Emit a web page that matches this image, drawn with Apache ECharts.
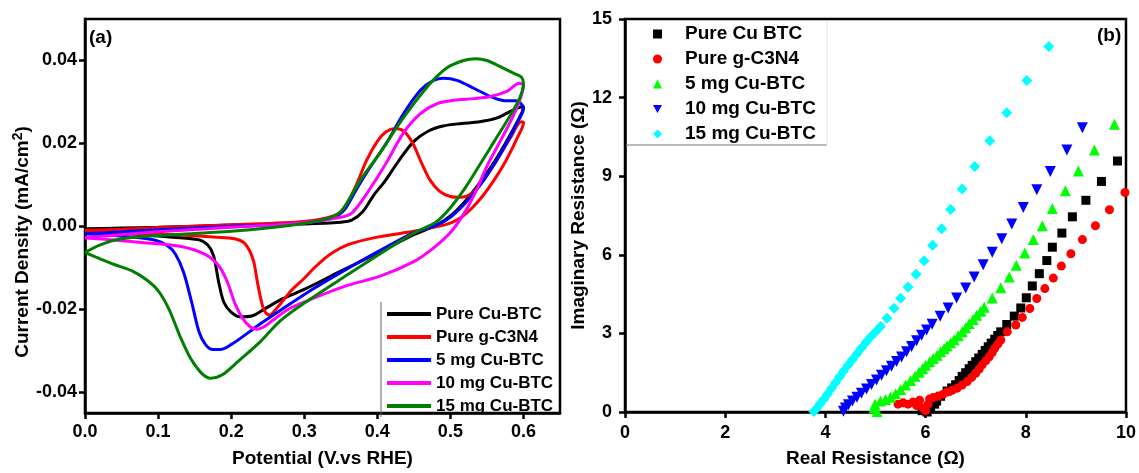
<!DOCTYPE html>
<html>
<head>
<meta charset="utf-8">
<script src="https://cdn.jsdelivr.net/npm/echarts@6/dist/echarts.min.js"></script>
<style>
html,body{margin:0;padding:0;background:#fff}
#chart{width:1139px;height:473px}
</style>
</head>
<body>
<div id="chart"></div>
<script>
// ---- (a) cyclic voltammograms: [potential V vs RHE, current density mA/cm2] ----
const cvPureCuBTC = [
  [0,-0.0006],[0.05,-0.0004],[0.1,-0.0002],[0.2,0.0003],[0.3,0.0006],[0.35,0.001],[0.365,0.0015],
  [0.38,0.0035],[0.395,0.0075],[0.41,0.0108],[0.43,0.016],[0.45,0.0205],[0.47,0.023],[0.49,0.0242],
  [0.515,0.0248],[0.54,0.0252],[0.565,0.0262],[0.585,0.028],[0.6,0.029],
  [0.598,0.0275],[0.58,0.0215],[0.56,0.0155],[0.54,0.0105],[0.52,0.006],[0.5,0.0025],[0.48,0.0002],
  [0.45,-0.002],[0.4,-0.0065],[0.35,-0.0108],[0.3,-0.0152],[0.27,-0.0175],[0.245,-0.02],[0.228,-0.0216],
  [0.212,-0.0218],[0.2,-0.0207],[0.19,-0.0183],[0.183,-0.0135],[0.176,-0.0071],[0.168,-0.0045],
  [0.155,-0.0032],[0.12,-0.0026],[0.08,-0.002],[0.04,-0.0014],[0,-0.0008]
];
const cvPureGC3N4 = [
  [0,-0.001],[0.05,-0.0007],[0.1,-0.0003],[0.2,0.0004],[0.3,0.0012],[0.34,0.0025],[0.355,0.0045],
  [0.37,0.0095],[0.385,0.0158],[0.4,0.0205],[0.412,0.0228],[0.424,0.0236],[0.436,0.023],[0.448,0.0202],
  [0.46,0.0155],[0.472,0.0112],[0.485,0.0085],[0.5,0.0072],[0.515,0.007],[0.528,0.0078],[0.542,0.0103],
  [0.563,0.0158],[0.582,0.0213],[0.597,0.0252],
  [0.6,0.025],[0.592,0.0215],[0.575,0.0155],[0.56,0.0112],[0.545,0.0075],[0.53,0.0045],[0.515,0.0022],
  [0.5,0.0008],[0.475,-0.0003],[0.45,-0.0012],[0.4,-0.0026],[0.36,-0.0044],[0.335,-0.0068],
  [0.315,-0.0098],[0.3,-0.0125],[0.282,-0.0155],[0.265,-0.0192],[0.252,-0.0214],[0.245,-0.0202],
  [0.24,-0.017],[0.236,-0.0135],[0.23,-0.008],[0.219,-0.0042],[0.205,-0.003],[0.18,-0.0026],
  [0.13,-0.0021],[0.06,-0.0016],[0,-0.0012]
];
const cv5mg = [
  [0,-0.0018],[0.05,-0.0013],[0.1,-0.0008],[0.2,0],[0.3,0.0008],[0.34,0.0022],[0.355,0.004],[0.37,0.0085],
  [0.386,0.0131],[0.4,0.0168],[0.413,0.0202],[0.436,0.0272],[0.459,0.0328],[0.477,0.0352],[0.491,0.0357],
  [0.509,0.0352],[0.532,0.0333],[0.555,0.0313],[0.575,0.0303],[0.59,0.0303],[0.597,0.0295],
  [0.6,0.0285],[0.59,0.0245],[0.575,0.0195],[0.56,0.015],[0.54,0.0098],[0.52,0.0055],[0.5,0.0022],
  [0.48,0.0002],[0.45,-0.0015],[0.404,-0.0058],[0.358,-0.0103],[0.313,-0.015],[0.267,-0.0203],
  [0.24,-0.0235],[0.222,-0.0258],[0.2,-0.0285],[0.185,-0.0297],[0.175,-0.0297],[0.165,-0.0285],
  [0.156,-0.0254],[0.146,-0.0183],[0.135,-0.0111],[0.124,-0.0068],[0.113,-0.0047],[0.095,-0.0033],
  [0.06,-0.0025],[0.02,-0.002],[0,-0.0018]
];
const cv10mg = [
  [0,-0.0027],[0.05,-0.002],[0.1,-0.0013],[0.2,-0.0002],[0.3,0.0009],[0.35,0.0022],[0.365,0.0032],
  [0.386,0.008],[0.413,0.0155],[0.436,0.0226],[0.459,0.0272],[0.482,0.0296],[0.505,0.0304],[0.532,0.0308],
  [0.555,0.0313],[0.578,0.0326],[0.594,0.0345],[0.6,0.034],
  [0.592,0.029],[0.58,0.0245],[0.565,0.0195],[0.55,0.0145],[0.535,0.0085],[0.52,0.0035],[0.5,-0.0015],
  [0.475,-0.0055],[0.45,-0.0085],[0.404,-0.012],[0.358,-0.0143],[0.313,-0.0173],[0.28,-0.0198],
  [0.258,-0.0225],[0.245,-0.0242],[0.235,-0.0248],[0.226,-0.0242],[0.215,-0.022],[0.205,-0.0185],
  [0.195,-0.0135],[0.183,-0.0095],[0.165,-0.0068],[0.13,-0.0048],[0.085,-0.004],[0.04,-0.0033],[0,-0.0028]
];
const cv15mg = [
  [0,-0.0063],[0.02,-0.0045],[0.05,-0.003],[0.1,-0.0022],[0.2,-0.0012],[0.28,0.0002],[0.33,0.0018],
  [0.35,0.0035],[0.377,0.0112],[0.404,0.0178],[0.427,0.024],[0.45,0.0296],[0.473,0.0346],[0.495,0.0382],
  [0.518,0.04],[0.535,0.0404],[0.55,0.04],[0.564,0.0389],[0.587,0.0369],[0.597,0.036],[0.6,0.0345],
  [0.595,0.031],[0.58,0.0262],[0.56,0.0205],[0.54,0.0148],[0.52,0.0092],[0.5,0.0045],[0.48,0.001],
  [0.45,-0.0016],[0.404,-0.0066],[0.358,-0.0118],[0.3,-0.0185],[0.267,-0.0228],[0.24,-0.0278],
  [0.21,-0.0325],[0.188,-0.0358],[0.172,-0.0366],[0.16,-0.0355],[0.145,-0.032],[0.13,-0.0265],
  [0.115,-0.02],[0.1,-0.0155],[0.085,-0.013],[0.065,-0.0108],[0.04,-0.0092],[0.015,-0.0074],[0,-0.0063]
];

// ---- (b) Nyquist data: [real resistance, imaginary resistance] ----
const eisPureCuBTC = [
  [5.93,0.05],[6.03,0.0],[6.1,0.15],[6.18,0.3],[6.22,0.42],[6.3,0.6],[6.43,0.8],[6.52,0.92],[6.6,1.04],
  [6.67,1.2],[6.73,1.36],[6.8,1.5],[6.87,1.65],[6.93,1.78],[7.0,1.92],[7.06,2.06],[7.13,2.2],[7.19,2.35],
  [7.25,2.49],[7.31,2.63],[7.38,2.78],[7.44,2.92],[7.5,3.06],[7.62,3.34],[7.77,3.66],[7.9,3.97],
  [8.01,4.36],[8.13,4.81],[8.27,5.28],[8.42,5.78],[8.53,6.29],[8.72,6.83],[8.93,7.45],[9.2,8.08],
  [9.51,8.8],[9.83,9.58]
];
const eisPureGC3N4 = [
  [5.45,0.3],[5.55,0.35],[5.65,0.3],[5.75,0.38],[5.82,0.25],[5.88,0.45],[5.95,0.15],[6.0,0.05],
  [6.05,0.3],[6.08,0.5],[6.15,0.55],[6.25,0.6],[6.35,0.68],[6.43,0.76],[6.53,0.83],[6.63,0.91],
  [6.73,1.03],[6.83,1.16],[6.92,1.32],[7.0,1.48],[7.07,1.64],[7.13,1.8],[7.2,1.95],[7.27,2.11],
  [7.33,2.27],[7.38,2.43],[7.44,2.59],[7.5,2.75],[7.63,3.06],[7.8,3.32],[7.93,3.61],[8.08,3.95],
  [8.22,4.33],[8.38,4.71],[8.55,5.11],[8.71,5.57],[8.9,6.04],[9.13,6.58],[9.39,7.11],[9.67,7.72],[9.98,8.38]
];
const eis5mg = [
  [5.03,0.02],[4.97,0.15],[4.99,0.3],[5.1,0.42],[5.2,0.48],[5.3,0.56],[5.4,0.7],[5.5,0.86],[5.6,1.03],
  [5.7,1.2],[5.79,1.36],[5.87,1.52],[5.94,1.65],[6.0,1.78],[6.08,1.92],[6.15,2.04],[6.23,2.17],
  [6.3,2.3],[6.37,2.42],[6.43,2.53],[6.5,2.64],[6.57,2.76],[6.65,2.91],[6.73,3.06],[6.8,3.22],
  [6.87,3.38],[6.95,3.53],[7.02,3.69],[7.1,3.85],[7.17,4.0],[7.33,4.35],[7.5,4.74],[7.67,5.15],
  [7.81,5.6],[7.98,6.07],[8.15,6.58],[8.33,7.11],[8.53,7.77],[8.79,8.44],[9.05,9.2],[9.37,10.0],[9.77,10.98]
];
const eis10mg = [
  [4.36,0.03],[4.4,0.15],[4.46,0.28],[4.54,0.42],[4.63,0.56],[4.72,0.72],[4.82,0.88],[4.92,1.05],
  [5.02,1.22],[5.12,1.4],[5.22,1.57],[5.32,1.75],[5.42,1.93],[5.52,2.1],[5.62,2.3],[5.72,2.5],
  [5.82,2.72],[5.92,2.93],[6.02,3.13],[6.13,3.35],[6.29,3.65],[6.45,3.97],[6.62,4.35],[6.8,4.73],
  [6.97,5.15],[7.15,5.62],[7.33,6.1],[7.52,6.61],[7.72,7.18],[7.95,7.81],[8.22,8.48],[8.49,9.18],
  [8.82,10.0],[9.13,10.85]
];
const eis15mg = [
  [3.77,0.02],[3.83,0.15],[3.9,0.32],[3.97,0.5],[4.04,0.68],[4.12,0.9],[4.2,1.12],[4.28,1.34],
  [4.36,1.56],[4.45,1.78],[4.54,2.0],[4.63,2.22],[4.72,2.44],[4.81,2.66],[4.9,2.86],[5.0,3.05],
  [5.1,3.26],[5.23,3.58],[5.37,3.96],[5.5,4.34],[5.65,4.77],[5.81,5.26],[5.97,5.77],[6.14,6.36],
  [6.32,6.99],[6.5,7.73],[6.73,8.51],[6.98,9.37],[7.28,10.35],[7.62,11.42],[8.02,12.65],[8.46,13.95]
];

// ---- labels and ticks ----
const cvLabels = ['Pure Cu-BTC','Pure g-C3N4','5 mg Cu-BTC','10 mg Cu-BTC','15 mg Cu-BTC'];
const eisLabels = ['Pure Cu BTC','Pure g-C3N4','5 mg Cu-BTC','10 mg Cu-BTC','15 mg Cu-BTC'];
const cvXTicks = [0,0.1,0.2,0.3,0.4,0.5,0.6];
const cvYTicks = [-0.04,-0.02,0,0.02,0.04];

const cvData = [cvPureCuBTC, cvPureGC3N4, cv5mg, cv10mg, cv15mg];
const cvColors = ['#000000','#ff0000','#0000ff','#ff00ff','#008000'];
const eisData = [eisPureCuBTC, eisPureGC3N4, eis5mg, eis10mg, eis15mg];
const eisColors = ['#000000','#ff0000','#00ff00','#0000ff','#00ffff'];
const eisSymbols = ['rect','circle','triangle','triangle','diamond'];
const eisRotate = [0,0,0,180,0];
const eisSizes = [9,9,11,11,11];
// legend icons (the inverted triangle needs its own path)
const eisLegendIcons = ['rect','circle','triangle','path://M0,0L10,0L5,9Z','diamond'];

const FONT = '"Liberation Sans", Arial, sans-serif';
const cvName = i => cvLabels[i] + ' (CV)';
const eisName = i => eisLabels[i] + ' (EIS)';
const stripTag = n => n.replace(/ \((CV|EIS)\)$/, '');

const axisLine = {show:true, onZero:false, lineStyle:{color:'#000', width:2.5}};
const tick = {show:true, inside:false, length:6, lineStyle:{color:'#000', width:2.5}};
const tickLabel = {color:'#000', fontWeight:'bold', fontSize:18, fontFamily:FONT};
const titleStyle = {color:'#000', fontWeight:'bold', fontSize:19, fontFamily:FONT};

const series = [];
cvData.forEach((d, i) => series.push({
  name: cvName(i), type:'line', xAxisIndex:0, yAxisIndex:0, data:d,
  symbol:'none', smooth:0.3, lineStyle:{color:cvColors[i], width:3},
  itemStyle:{color:cvColors[i]}, z: 2 + i
}));
eisData.forEach((d, i) => series.push({
  name: eisName(i), type:'scatter', xAxisIndex:1, yAxisIndex:1, data:d,
  symbol:eisSymbols[i], symbolRotate:eisRotate[i], symbolSize:eisSizes[i],
  itemStyle:{color:eisColors[i], opacity:1}
}));

const chart = echarts.init(document.getElementById('chart'), null, {renderer:'canvas'});
chart.setOption({
  backgroundColor:'#ffffff',
  animation:false,
  grid:[
    {left:85, top:19, width:475, height:399, show:true, borderColor:'#000', borderWidth:2.5},
    {left:625, top:19, width:501, height:395, show:true, borderColor:'#000', borderWidth:2.5}
  ],
  xAxis:[
    {gridIndex:0, type:'value', min:0, max:0.65,
     axisLine, axisTick:{...tick, customValues:cvXTicks}, splitLine:{show:false},
     axisLabel:{...tickLabel, margin:10, customValues:cvXTicks, formatter:v => v.toFixed(1)},
     name:'Potential (V.vs RHE)', nameLocation:'middle', nameGap:36, nameTextStyle:titleStyle},
    {gridIndex:1, type:'value', min:0, max:10, interval:2,
     axisLine, axisTick:tick, splitLine:{show:false},
     axisLabel:{...tickLabel, margin:12},
     name:'Real Resistance (\u03A9)', nameLocation:'middle', nameGap:37, nameTextStyle:titleStyle}
  ],
  yAxis:[
    {gridIndex:0, type:'value', min:-0.045, max:0.05,
     axisLine, axisTick:{...tick, customValues:cvYTicks}, splitLine:{show:false},
     axisLabel:{...tickLabel, margin:8, customValues:cvYTicks, formatter:v => v.toFixed(2)},
     name:'{t|Current Density (mA/cm}{s|2}{t|)}', nameLocation:'middle', nameGap:49,
     nameTextStyle:{...titleStyle, padding:[0,52,0,0], rich:{
       t:{...titleStyle},
       s:{color:'#000', fontWeight:'bold', fontSize:14, fontFamily:FONT, verticalAlign:'top', padding:[0,0,9,0]}
     }}},
    {gridIndex:1, type:'value', min:0, max:15, interval:3,
     axisLine, axisTick:tick, splitLine:{show:false},
     axisLabel:{...tickLabel, margin:13},
     name:'Imaginary Resistance (\u03A9)', nameLocation:'middle', nameGap:35, nameTextStyle:titleStyle}
  ],
  legend:[
    {orient:'vertical', left:387, top:305, padding:0, itemWidth:44, itemHeight:4, itemGap:5,
     icon:'rect', selectedMode:false, data:cvLabels.map((l, i) => cvName(i)),
     formatter:stripTag,
     textStyle:{color:'#000', fontWeight:'bold', fontSize:17, fontFamily:FONT, lineHeight:18}},
    {orient:'vertical', left:653, top:24, padding:0, itemWidth:9, itemHeight:9, itemGap:5,
     selectedMode:false,
     data:eisLabels.map((l, i) => ({name:eisName(i), icon:eisLegendIcons[i]})),
     formatter:stripTag,
     textStyle:{color:'#000', fontWeight:'bold', fontSize:19, fontFamily:FONT, lineHeight:20,
                padding:[0,0,0,18]}}
  ],
  graphic:[
    {type:'line', shape:{x1:381, y1:302, x2:381, y2:417}, style:{stroke:'#666', lineWidth:1}, z:10},
    {type:'line', shape:{x1:626, y1:145, x2:827, y2:145}, style:{stroke:'#777', lineWidth:1}, z:10},
    {type:'line', shape:{x1:827, y1:21, x2:827, y2:145}, style:{stroke:'#e2e2e2', lineWidth:1}, z:10},
    {type:'text', left:89, top:28, style:{text:'(a)', fill:'#000', font:'bold 19px ' + FONT}, z:10},
    {type:'text', left:1097, top:26, style:{text:'(b)', fill:'#000', font:'bold 19px ' + FONT}, z:10}
  ],
  series
});
</script>
</body>
</html>
